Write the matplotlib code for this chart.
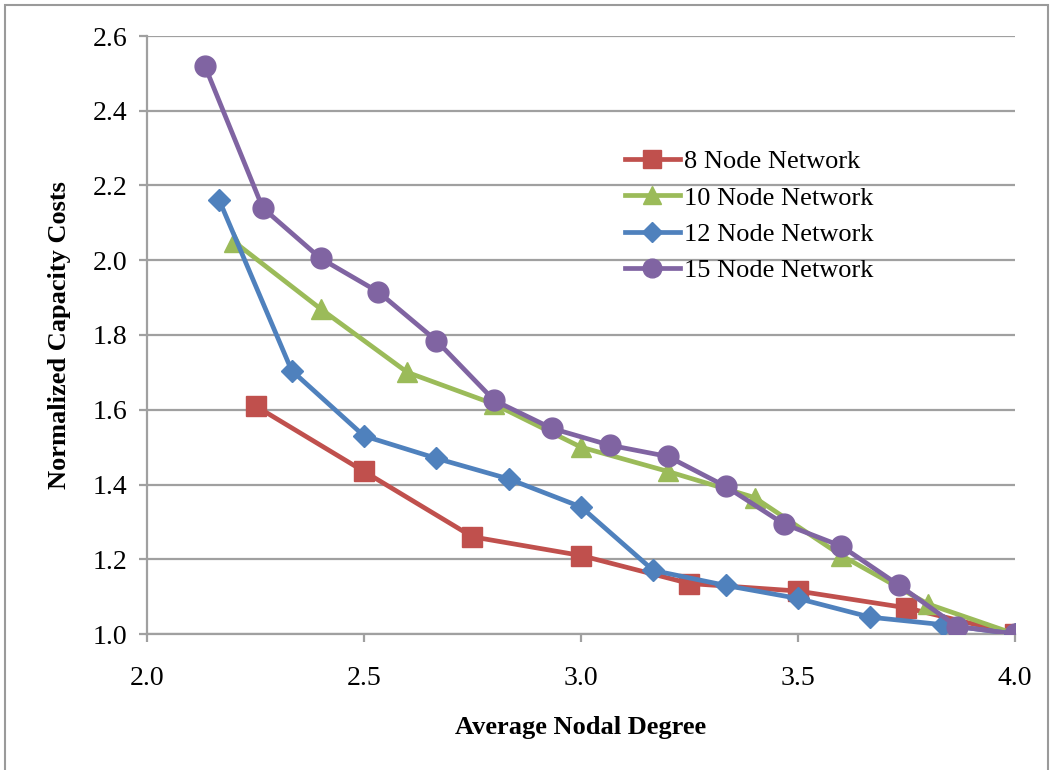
import matplotlib.pyplot as plt
from matplotlib.patches import Rectangle

plt.rcParams['font.family'] = ['Liberation Serif', 'DejaVu Serif']

# data
x8 = [2.25, 2.5, 2.75, 3.0, 3.25, 3.5, 3.75, 4.0]
y8 = [1.61, 1.435, 1.26, 1.21, 1.135, 1.115, 1.07, 1.0]

x10 = [2.2, 2.4, 2.6, 2.8, 3.0, 3.2, 3.4, 3.6, 3.8, 4.0]
y10 = [2.05, 1.87, 1.70, 1.615, 1.50, 1.435, 1.365, 1.21, 1.08, 1.0]

x12 = [2.1667, 2.3333, 2.5, 2.6667, 2.8333, 3.0, 3.1667, 3.3333, 3.5, 3.6667, 3.8333, 4.0]
y12 = [2.16, 1.705, 1.53, 1.47, 1.415, 1.34, 1.17, 1.13, 1.095, 1.045, 1.025, 1.0]

x15 = [2.1333, 2.2667, 2.4, 2.5333, 2.6667, 2.8, 2.9333, 3.0667, 3.2, 3.3333,
       3.4667, 3.6, 3.7333, 3.8667, 4.0]
y15 = [2.52, 2.14, 2.005, 1.915, 1.785, 1.625, 1.55, 1.505, 1.475, 1.395,
       1.295, 1.235, 1.13, 1.02, 1.0]

xticks = [2.0, 2.5, 3.0, 3.5, 4.0]
yticks = [1.0, 1.2, 1.4, 1.6, 1.8, 2.0, 2.2, 2.4, 2.6]

fig = plt.figure(figsize=(10.54, 7.7), dpi=100)
ax = fig.add_axes([147/1054, 1 - 634/770, (1015-147)/1054, (634-36)/770])

# figure border
fig.patches.append(Rectangle((5/1054, -0.01), 1043/1054, 1 - 5/770 + 0.01,
                             transform=fig.transFigure, fill=False,
                             edgecolor='#9a9a9a', linewidth=1.5))

grid_c = '#a0a0a0'
for y in yticks:
    ax.axhline(y, color=grid_c, linewidth=1.6, zorder=1)

lw = 3.4
ax.plot(x8, y8, color='#C0504D', marker='s', markersize=14, linewidth=lw,
        label='8 Node Network', zorder=3)
ax.plot(x10, y10, color='#9BBB59', marker='^', markersize=15, linewidth=lw,
        label='10 Node Network', zorder=3)
ax.plot(x12, y12, color='#4F81BD', marker='D', markersize=11, linewidth=lw,
        label='12 Node Network', zorder=3)
ax.plot(x15, y15, color='#8064A2', marker='o', markersize=15, linewidth=lw,
        label='15 Node Network', zorder=3)

ax.set_xlim(2.0, 4.0)
ax.set_ylim(1.0, 2.6)
ax.set_xticks(xticks)
ax.set_yticks(yticks)
ax.set_xticklabels([f'{v:.1f}' for v in xticks])
ax.set_yticklabels([f'{v:.1f}' for v in yticks])

for s in ['top', 'right']:
    ax.spines[s].set_visible(False)
ax.spines['left'].set_color(grid_c)
ax.spines['left'].set_linewidth(1.6)
ax.spines['bottom'].set_color(grid_c)
ax.spines['bottom'].set_linewidth(1.6)
ax.tick_params(axis='both', colors=grid_c, labelcolor='black', labelsize=20,
               length=6, width=1.6, direction='out')
ax.tick_params(axis='x', pad=17)
ax.tick_params(axis='y', pad=8)

ax.set_xlabel('Average Nodal Degree', fontsize=19, fontweight='bold', labelpad=18)
ax.set_ylabel('Normalized Capacity Costs', fontsize=19, fontweight='bold', labelpad=16)

ax.legend(loc='upper left', bbox_to_anchor=(0.538, 0.827), frameon=False,
          fontsize=19, handlelength=2.1, labelspacing=0.48, handletextpad=0.15,
          borderaxespad=0, markerscale=0.9)

fig.savefig('out.png', dpi=100)
